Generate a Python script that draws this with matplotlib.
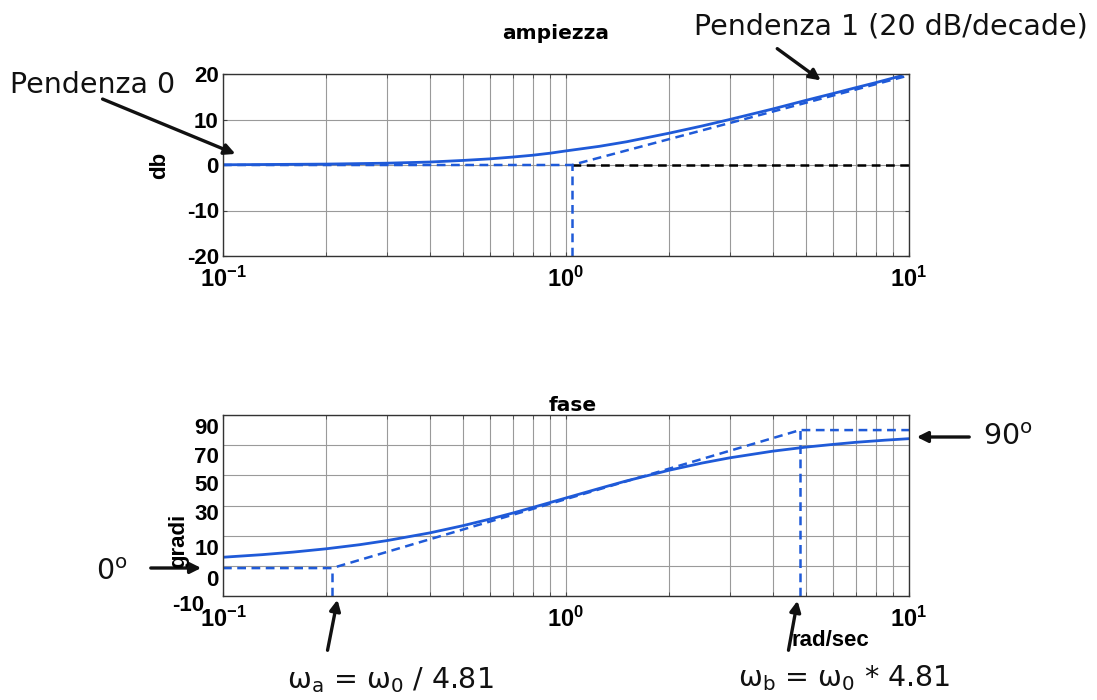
import numpy as np
import matplotlib
matplotlib.use("Agg")
import matplotlib.pyplot as plt
from matplotlib.transforms import blended_transform_factory

plt.rcParams['font.family'] = ['DejaVu Sans']
plt.rcParams['mathtext.fontset'] = 'custom'
plt.rcParams['mathtext.rm'] = 'DejaVu Sans'
plt.rcParams['mathtext.bf'] = 'Liberation Sans:bold'

# ---- data ----
w_mag = [0.1, 0.2, 0.3, 0.4, 0.5, 0.6, 0.7, 0.8, 0.9, 1.0, 1.25, 1.5, 2.0, 2.5, 3.0, 4.0, 5.0, 6.0, 7.0, 8.0, 9.5]
mag_db = [0.05, 0.2, 0.4, 0.65, 1.0, 1.35, 1.75, 2.15, 2.6, 3.1, 4.1, 5.1, 7.0, 8.6, 10.0, 12.3, 14.2, 15.7, 17.0, 18.1, 19.6]
w_mag_asym = [0.1, 1.04, 10.0]
mag_asym_db = [0.0, 0.0, 19.7]
w_zero_ref = [1.04, 10.0]
zero_ref_db = [0.0, 0.0]
w_break_mag = 1.04

w_ph = [0.1, 0.13, 0.16, 0.2, 0.25, 0.3, 0.4, 0.5, 0.6, 0.7, 0.85, 1.0, 1.25, 1.5, 2.0, 2.5, 3.0, 4.0, 5.0, 6.0, 7.0, 8.5, 10.0]
ph_deg = [5.7, 7.4, 9.1, 11.3, 14.0, 16.7, 21.8, 26.6, 31.0, 35.0, 40.4, 45.0, 51.3, 56.3, 63.4, 68.2, 71.6, 76.0, 78.7, 80.5, 81.9, 83.3, 84.3]
w_ph_asym = [0.1, 0.208, 4.81, 10.0]
ph_asym_deg = [-1.5, -1.5, 90.0, 90.0]
w_a = 0.208
w_b = 4.81

xtick_vals = [0.1, 1, 10]
xtick_labels = [r'$\mathbf{10^{-1}}$', r'$\mathbf{10^{0}}$', r'$\mathbf{10^{1}}$']
mag_yticks = [-20, -10, 0, 10, 20]
ph_grid = [-20, 0, 20, 40, 60, 80, 100]
ph_label_pos = [91, 72, 53, 34, 11, -9.5, -26]
ph_label_txt = ['90', '70', '50', '30', '10', '0', '-10']

BLUE = '#1f5ad8'
GRID = '#9a9a9a'
W, H = 1097, 700

fig = plt.figure(figsize=(W / 100, H / 100), dpi=100)
ax1 = fig.add_axes([223 / W, 1 - 256 / H, 686 / W, 182 / H])
ax2 = fig.add_axes([223 / W, 1 - 596 / H, 686 / W, 181 / H])

tickfont = dict(family='Liberation Sans', weight='bold', size=16)

for ax in (ax1, ax2):
    ax.set_xscale('log')
    ax.set_xlim(0.1, 10)
    ax.set_xticks(xtick_vals)
    ax.set_xticklabels(xtick_labels, fontsize=17)
    ax.grid(True, which='both', axis='x', color=GRID, lw=0.8)
    ax.grid(True, which='major', axis='y', color=GRID, lw=0.8)
    ax.tick_params(which='both', direction='in', top=True, right=True, length=3, color='#444444')
    ax.tick_params(axis='x', pad=8)
    for s in ax.spines.values():
        s.set_color('#333333')
        s.set_linewidth(1.0)

# ---- magnitude ----
ax1.set_ylim(-20, 20)
ax1.set_yticks(mag_yticks)
ax1.set_yticklabels([str(v) for v in mag_yticks], fontdict=tickfont)
ax1.tick_params(axis='y', pad=3)
ax1.plot(w_zero_ref, zero_ref_db, color='black', lw=1.8, ls=(0, (3.5, 2.2)))
ax1.plot(w_mag_asym, mag_asym_db, color=BLUE, lw=1.8, ls=(0, (3.5, 2.2)), clip_on=False)
ax1.plot([w_break_mag, w_break_mag], [-20, 0], color=BLUE, lw=1.8, ls=(0, (3.5, 2.2)))
ax1.plot(w_mag, mag_db, color=BLUE, lw=2.0)
ax1.set_title('ampiezza', fontsize=14.5, fontweight='bold', pad=25, x=0.485)
ax1.set_ylabel('db', fontsize=16, fontweight='bold', family='Liberation Sans', labelpad=12)

# ---- phase ----
ax2.set_ylim(-20, 100)
ax2.set_yticks(ph_grid)
ax2.set_yticklabels([])
ax2.tick_params(axis='y', length=0)
tr = blended_transform_factory(ax2.transAxes, ax2.transData)
for p, t in zip(ph_label_pos, ph_label_txt):
    xoff = -0.028 if t == '-10' else -0.006
    ax2.text(xoff, p, t, transform=tr, ha='right', va='center', clip_on=False, **tickfont)
ax2.plot(w_ph_asym, ph_asym_deg, color=BLUE, lw=1.8, ls=(0, (3.5, 2.2)))
ax2.plot([w_a, w_a], [-20, -1.5], color=BLUE, lw=1.8, ls=(0, (3.5, 2.2)))
ax2.plot([w_b, w_b], [-20, 90], color=BLUE, lw=1.8, ls=(0, (3.5, 2.2)))
ax2.plot(w_ph, ph_deg, color=BLUE, lw=2.0)
ax2.set_title('fase', fontsize=14.5, fontweight='bold', pad=3, x=0.51)

fig.text(179 / W, 1 - 541 / H, 'gradi', rotation=90, ha='center', va='center', **tickfont)
fig.text(830 / W, 1 - 640 / H, 'rad/sec', ha='center', va='center', **tickfont)

# ---- annotations ----
ann = dict(fontsize=20.5, family='DejaVu Sans', color='#111111')
fig.text(10 / W, 1 - 85 / H, 'Pendenza 0', ha='left', va='center', **ann)
fig.text(1088 / W, 1 - 27 / H, 'Pendenza 1 (20 dB/decade)', ha='right', va='center', **ann)
fig.text(112 / W, 1 - 572 / H, '0$^{\\mathrm{o}}$', ha='center', va='center', **ann)
fig.text(983 / W, 1 - 437 / H, '90$^{\\mathrm{o}}$', ha='left', va='center', **ann)
fig.text(390 / W, 1 - 680 / H, 'ω$_{\\mathrm{a}}$ = ω$_{\\mathrm{0}}$ / 4.81', ha='center', va='center', **ann)
fig.text(844 / W, 1 - 678 / H, 'ω$_{\\mathrm{b}}$ = ω$_{\\mathrm{0}}$ * 4.81', ha='center', va='center', **ann)

arrows = [((100, 98), (238, 155)),
          ((775, 47), (823, 82)),
          ((148, 568), (204, 568)),
          ((972, 437), (914, 437)),
          ((327, 653), (338, 597)),
          ((788, 653), (798, 598))]
for (x0, y0), (x1, y1) in arrows:
    fig.add_artist(matplotlib.patches.FancyArrowPatch(
        (x0 / W, 1 - y0 / H), (x1 / W, 1 - y1 / H), transform=fig.transFigure,
        arrowstyle='-|>', mutation_scale=16, lw=2.4, color='#111111'))

fig.savefig('out.png', dpi=100)
